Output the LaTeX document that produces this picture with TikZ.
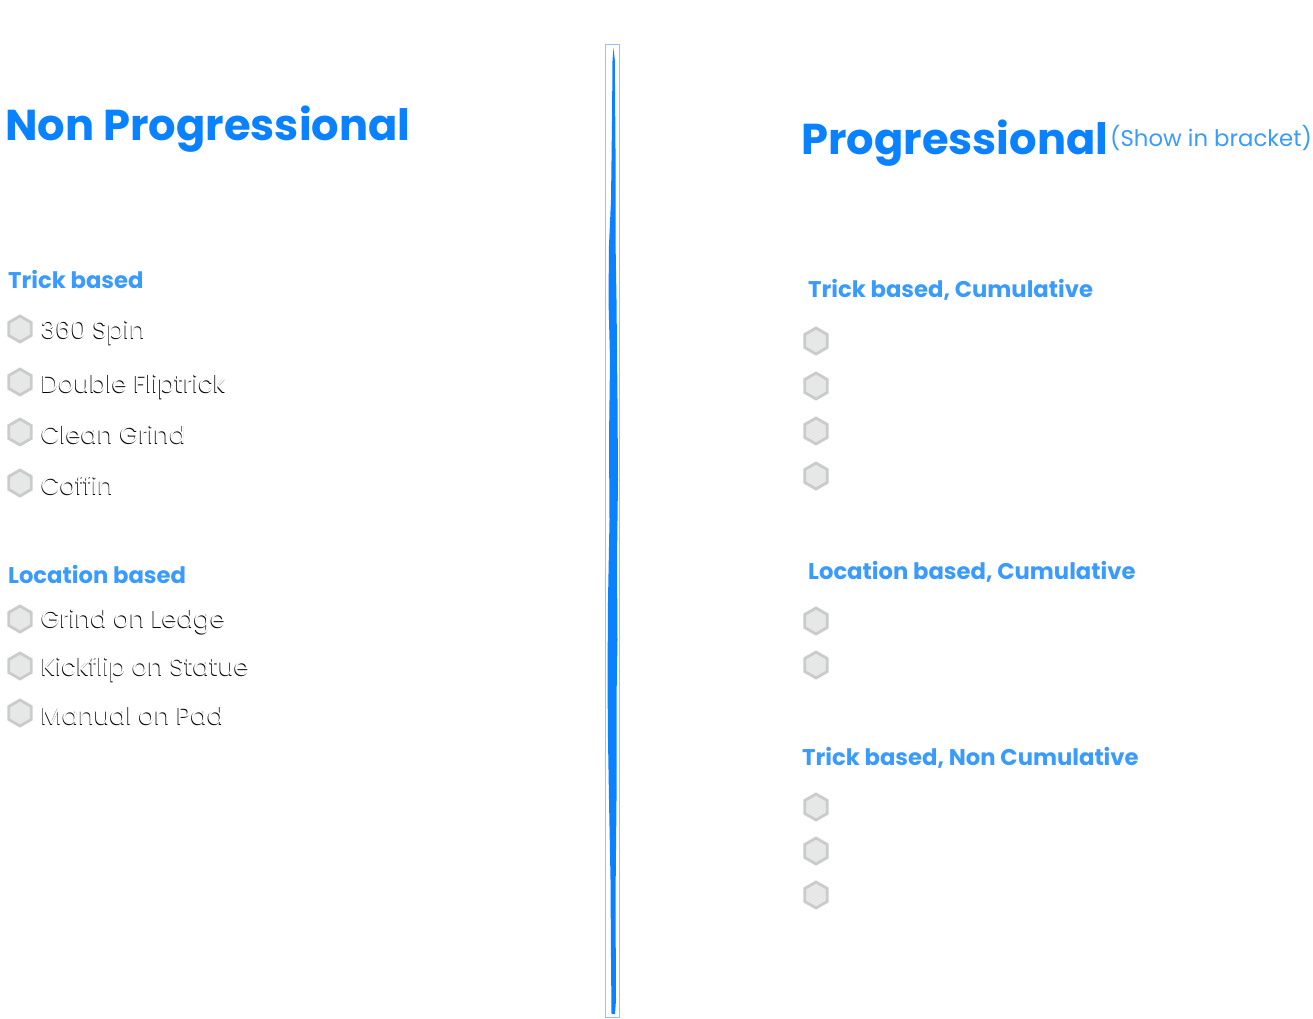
\documentclass[tikz,border=0pt]{standalone}
\usepackage{fontspec}
\setmainfont{Poppins}
\usetikzlibrary{shapes.geometric}
\definecolor{headblue}{HTML}{0A82FF}
\definecolor{subblue}{HTML}{3A9BFF}
\definecolor{hexfill}{HTML}{E6E7E7}
\definecolor{hexline}{HTML}{CBCBCB}
\definecolor{boxline}{HTML}{8CC4FF}
\newcommand\embossed[1]{\rlap{\raisebox{-1.1pt}{\hspace{-0.7pt}\color{black}#1}}{\color{white}#1}}
\tikzset{
  headtxt/.style={anchor=base west,inner sep=0pt,text=headblue,font=\bfseries\fontsize{43.2}{46}\selectfont},
  subtxt/.style={anchor=base west,inner sep=0pt,text=subblue,font=\bfseries\fontsize{22.7}{25}\selectfont},
  itemtxt/.style={anchor=west,inner sep=0pt,font=\fontsize{24.4}{26}\selectfont},
  hexbox/.style={regular polygon,regular polygon sides=6,shape border rotate=30,minimum size=26pt,inner sep=0pt,draw=hexline,fill=hexfill,line width=2.8pt},
}
\begin{document}
\begin{tikzpicture}[x=1pt,y=-1pt]
\useasboundingbox[fill=white] (0,0) rectangle (1313,1018);
% titles
\node[headtxt] (np) at (5,140) {Non Progressional};
\node[headtxt] (pr) at (801,154) {Progressional};
\node[anchor=base west,inner sep=0pt,text=subblue,font=\fontsize{22.8}{25}\selectfont] (br) at (1110,146) {(Show in bracket)};
% divider
\node[draw=boxline,line width=0.8pt,minimum width=14pt,minimum height=973pt,inner sep=0pt,anchor=north west] (div) at (605,44) {};
\fill[headblue] (613.5,48) -- (614.8,60) -- (615.5,150) -- (615.5,240) -- (616.5,300) -- (617.5,400) -- (618,480) -- (617,560) -- (617.5,640) -- (616.5,700) -- (616.5,800) -- (615.5,900) -- (616,1000) -- (615,1014) -- (611.5,1014) -- (611,960) -- (610.5,880) -- (609,800) -- (608,740) -- (607.5,680) -- (608,600) -- (609.5,520) -- (609,440) -- (610,360) -- (608.5,300) -- (609,245) -- (611,200) -- (612,120) -- (612.5,60) -- cycle;
% left: trick based
\node[subtxt] (lt) at (8,288) {Trick based};
\node[hexbox] (h1) at (20,329) {};
\node[itemtxt] (t1) at (41,333) {\embossed{360 Spin}};
\node[hexbox] (h2) at (20,382) {};
\node[itemtxt] (t2) at (41,387) {\embossed{Double Fliptrick}};
\node[hexbox] (h3) at (20,432) {};
\node[itemtxt] (t3) at (41,435) {\embossed{Clean Grind}};
\node[hexbox] (h4) at (20,483) {};
\node[itemtxt] (t4) at (41,486) {\embossed{Coffin}};
% left: location based
\node[subtxt] (ll) at (8,583) {Location based};
\node[hexbox] (h5) at (20,619) {};
\node[itemtxt] (t5) at (41,622) {\embossed{Grind on Ledge}};
\node[hexbox] (h6) at (20,666) {};
\node[itemtxt] (t6) at (41,670) {\embossed{Kickflip on Statue}};
\node[hexbox] (h7) at (20,713) {};
\node[itemtxt] (t7) at (41,716) {\embossed{Manual on Pad}};
% right
\node[subtxt] (rt) at (808,297) {Trick based, Cumulative};
\node[hexbox] (r1) at (816,341) {};
\node[hexbox] (r2) at (816,386) {};
\node[hexbox] (r3) at (816,431) {};
\node[hexbox] (r4) at (816,476) {};
\node[subtxt] (rl) at (808,579) {Location based, Cumulative};
\node[hexbox] (r5) at (816,621) {};
\node[hexbox] (r6) at (816,665) {};
\node[subtxt] (rn) at (802,765) {Trick based, Non Cumulative};
\node[hexbox] (r7) at (816,807) {};
\node[hexbox] (r8) at (816,851) {};
\node[hexbox] (r9) at (816,895) {};
\end{tikzpicture}
\end{document}
